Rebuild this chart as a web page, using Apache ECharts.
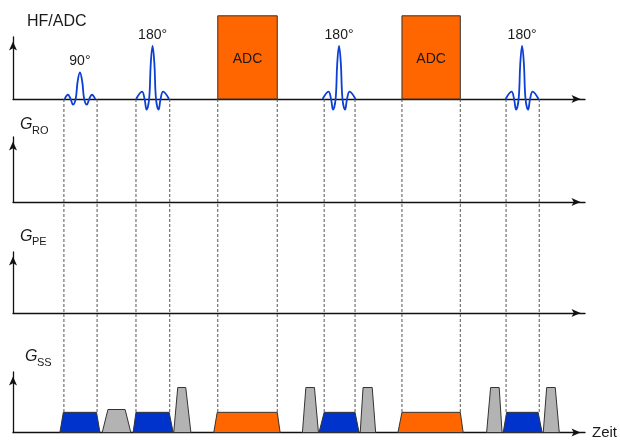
<!DOCTYPE html>
<html><head><meta charset="utf-8">
<script src="https://cdn.jsdelivr.net/npm/echarts@6/dist/echarts.min.js"></script>
<style>html,body{margin:0;padding:0;background:#fff}#c{width:620px;height:440px}</style>
</head><body><div id="c"></div>
<script>
// ---- data (time axis 0..100 arbitrary units) ----
const timeMax = 100;
const dashTimes = [8.9, 14.7, 21.5, 27.4, 35.8, 46.2, 54.4, 59.8, 68.0, 78.2, 86.2, 92.0];

const pulseCenters = [11.7, 24.4, 57.0, 89.0];
const pulseAmps    = [0.5, 1.0, 1.0, 1.0];
const pulseLabels  = ['90°', '180°', '180°', '180°'];
const pulseKinds   = ['p90', 'p180', 'p180', 'p180'];
// sinc shapes (time offset from centre, relative level)
const sinc90Offsets  = [-2.67, -2.10, -1.63, -1.22, -0.75, -0.40, 0, 0.40, 0.75, 1.22, 1.63, 2.10, 2.67];
const sinc90Levels   = [0, 0.16, 0, -0.21, 0, 0.66, 1, 0.66, 0, -0.21, 0, 0.16, 0];
const sinc180Offsets = [-2.88, -1.84, -1.40, -1.05, -0.60, -0.32, 0, 0.32, 0.60, 1.05, 1.40, 1.84, 2.88];
const sinc180Levels  = [0, 0.14, 0, -0.20, 0, 0.66, 1, 0.66, 0, -0.20, 0, 0.14, 0];

const adcStart = [35.8, 68.0];
const adcEnd   = [46.2, 78.2];
const adcLevel = 1.57;
const adcText  = 'ADC';

// slice-select channel trapezoids
const gStart = [8.2, 15.6, 21.0, 28.1, 35.1, 50.6, 53.5, 60.7, 67.3, 82.8, 85.7, 92.7];
const gTopA  = [8.8, 16.6, 21.5, 28.8, 35.7, 51.2, 54.4, 61.2, 68.0, 83.5, 86.3, 93.3];
const gTopB  = [14.6, 19.6, 27.3, 30.2, 46.2, 52.7, 59.8, 62.8, 78.2, 85.0, 91.8, 94.8];
const gEnd   = [15.2, 20.6, 28.0, 31.1, 46.7, 53.4, 60.5, 63.4, 78.7, 85.5, 92.5, 95.5];
const gAmp   = [1.0, 1.14, 1.0, 2.23, 1.0, 2.23, 1.0, 2.23, 1.0, 2.23, 1.0, 2.23];
const gKind  = ['ss', 'spoil', 'ss', 'spoil', 'ro', 'spoil', 'ss', 'spoil', 'ro', 'spoil', 'ss', 'spoil'];

// ---- styles ----
const FONT = "'Liberation Sans', Arial, sans-serif";
const AX = '#111';
const kindColor = { ss: '#0033cc', spoil: '#b3b3b3', ro: '#ff6600' };
const pulseColor = '#0b3fd6';

const shapes = {
  p90: [sinc90Offsets, sinc90Levels],
  p180: [sinc180Offsets, sinc180Levels]
};

const gridPos = [
  { top: 37, height: 62 },   // HF/ADC
  { top: 137, height: 65 },  // G_RO
  { top: 252, height: 61 },  // G_PE
  { top: 372, height: 62 },  // G_SS
  { top: 99, height: 315 }   // overlay for dashed guides
];
const yMax = [1.17, 1, 1, 3, 1];

const axisLine = {
  show: true, onZero: false,
  symbol: ['none', 'arrow'], symbolSize: [6, 9], symbolOffset: [0, -4.5],
  lineStyle: { color: AX, width: 1.3 }
};

const grids = gridPos.map(g => ({ left: 13, right: 35, top: g.top, height: g.height }));
const xAxes = gridPos.map((g, i) => ({
  gridIndex: i, type: 'value', min: 0, max: timeMax, show: i < 4,
  axisLine: axisLine, axisTick: { show: false }, axisLabel: { show: false }, splitLine: { show: false },
  name: i === 3 ? 'Zeit' : '', nameLocation: 'end', nameGap: 7,
  nameTextStyle: { fontSize: 15, color: '#1a1a1a', fontFamily: FONT }
}));
const yAxes = gridPos.map((g, i) => ({
  gridIndex: i, type: 'value', min: 0, max: yMax[i], show: i < 4,
  axisLine: axisLine, axisTick: { show: false }, axisLabel: { show: false }, splitLine: { show: false }
}));

const series = [];

// dashed timing guides
series.push({
  type: 'custom', xAxisIndex: 4, yAxisIndex: 4, z: 1, silent: true,
  data: dashTimes.map(t => [t]),
  renderItem: (params, api) => {
    const p0 = api.coord([api.value(0), 1]);
    const p1 = api.coord([api.value(0), 0]);
    return { type: 'line', shape: { x1: p0[0], y1: p0[1], x2: p1[0], y2: p1[1] },
      style: { stroke: '#555', lineWidth: 1, lineDash: [3, 2] } };
  }
});

// ADC windows
series.push({
  type: 'custom', xAxisIndex: 0, yAxisIndex: 0, z: 3, clip: false, silent: true,
  data: adcStart.map((s, i) => [s, adcEnd[i], adcLevel]),
  renderItem: (params, api) => {
    const a = api.coord([api.value(0), api.value(2)]);
    const b = api.coord([api.value(1), 0]);
    return { type: 'group', children: [
      { type: 'rect', shape: { x: a[0], y: a[1], width: b[0] - a[0], height: b[1] - a[1] },
        style: { fill: '#ff6600', stroke: '#333', lineWidth: 1 } },
      { type: 'text', style: { text: adcText, x: (a[0] + b[0]) / 2, y: (a[1] + b[1]) / 2 + 2,
        align: 'center', verticalAlign: 'middle', font: '14px ' + FONT, fill: '#1a1a1a' } }
    ] };
  }
});

// RF pulses
pulseCenters.forEach((c, i) => {
  const sh = shapes[pulseKinds[i]];
  series.push({
    type: 'line', xAxisIndex: 0, yAxisIndex: 0, z: 4, clip: false, silent: true,
    smooth: 0.4, symbol: 'none',
    lineStyle: { color: pulseColor, width: 1.8 },
    data: sh[0].map((o, k) => [c + o, pulseAmps[i] * sh[1][k]])
  });
});

// pulse labels
series.push({
  type: 'custom', xAxisIndex: 0, yAxisIndex: 0, z: 5, clip: false, silent: true,
  data: pulseCenters.map((c, i) => [c, pulseAmps[i], i]),
  renderItem: (params, api) => {
    const p = api.coord([api.value(0), api.value(1)]);
    return { type: 'text', style: { text: pulseLabels[api.value(2)], x: p[0], y: p[1] - 4,
      align: 'center', verticalAlign: 'bottom', font: '14px ' + FONT, fill: '#1a1a1a' } };
  }
});

// slice-select gradients
series.push({
  type: 'custom', xAxisIndex: 3, yAxisIndex: 3, z: 3, clip: false, silent: true,
  data: gStart.map((s, i) => [s, gTopA[i], gTopB[i], gEnd[i], gAmp[i], i]),
  renderItem: (params, api) => {
    const a = api.value(4);
    const pts = [
      api.coord([api.value(0), 0]), api.coord([api.value(1), a]),
      api.coord([api.value(2), a]), api.coord([api.value(3), 0])
    ];
    return { type: 'polygon', shape: { points: pts },
      style: { fill: kindColor[gKind[api.value(5)]], stroke: '#333', lineWidth: 1 } };
  }
});

const texts = [
  { t: 'HF/ADC', x: 27, y: 22, f: '16px ' + FONT },
  { t: 'G', x: 20, y: 125, f: 'italic 16px ' + FONT },
  { t: 'RO', x: 32, y: 131, f: '11px ' + FONT },
  { t: 'G', x: 20, y: 237, f: 'italic 16px ' + FONT },
  { t: 'PE', x: 32, y: 242, f: '11px ' + FONT },
  { t: 'G', x: 25, y: 357, f: 'italic 16px ' + FONT },
  { t: 'SS', x: 37, y: 363, f: '11px ' + FONT }
];

const chart = echarts.init(document.getElementById('c'), null, { renderer: 'canvas' });
chart.setOption({
  animation: false,
  backgroundColor: '#fff',
  grid: grids, xAxis: xAxes, yAxis: yAxes, series: series,
  graphic: texts.map(o => ({ type: 'text', x: o.x, y: o.y, silent: true,
    style: { text: o.t, font: o.f, fill: '#1a1a1a', verticalAlign: 'middle' } }))
});
</script></body></html>
